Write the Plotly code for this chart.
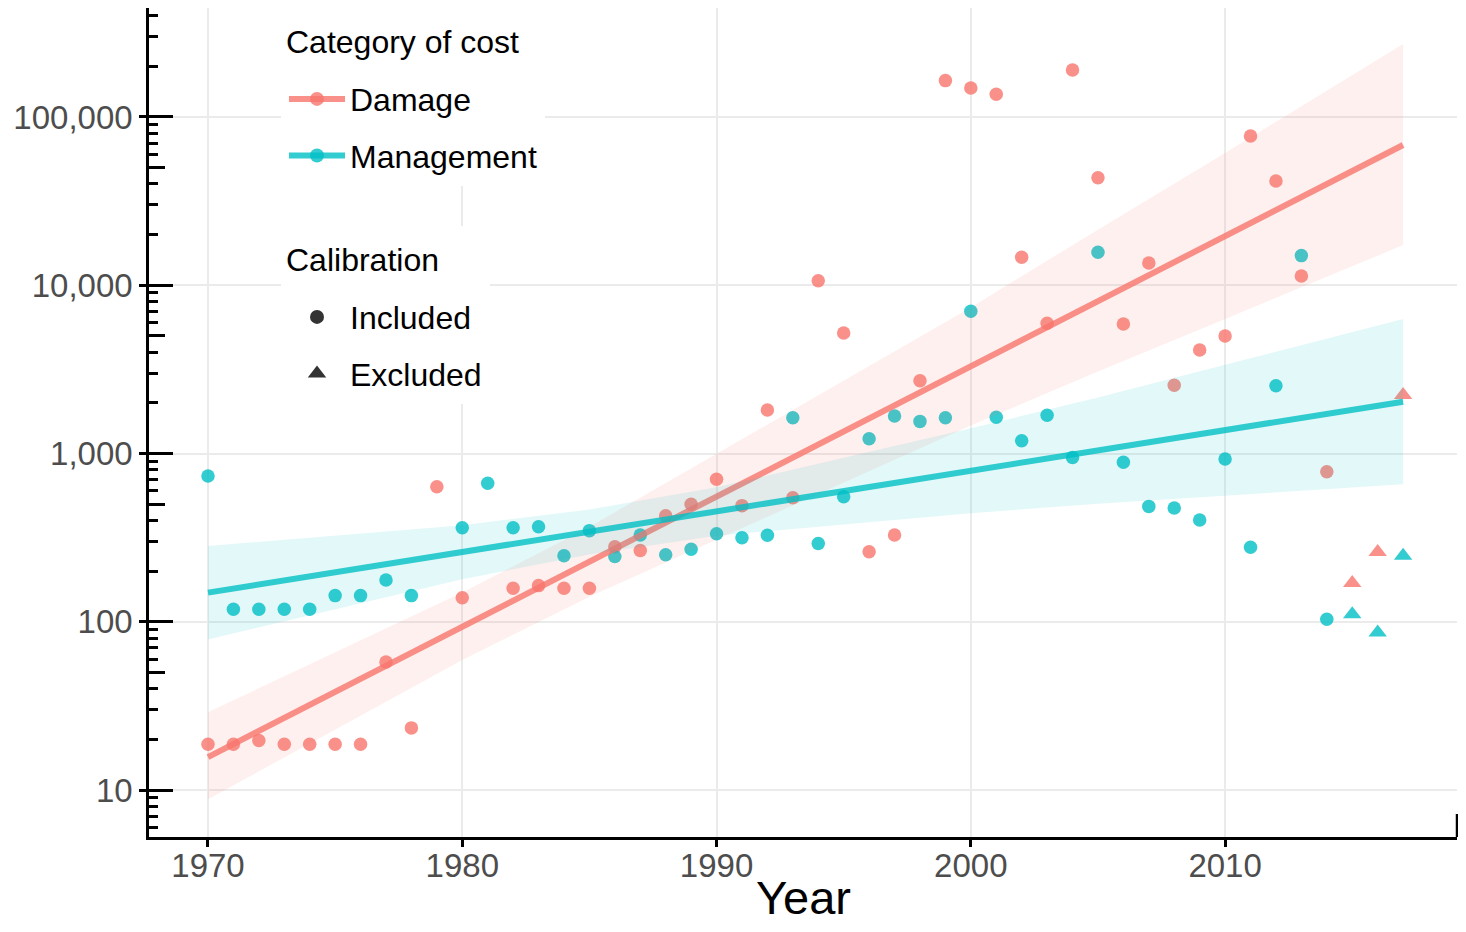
import plotly.graph_objects as go

# ---------------- data ----------------
dmg_years = [1970, 1971, 1972, 1973, 1974, 1975, 1976, 1977, 1978, 1979, 1980,
             1982, 1983, 1984, 1985, 1986, 1987, 1988, 1989, 1990, 1991, 1992,
             1993, 1994, 1995, 1996, 1997, 1998, 1999, 2000, 2001, 2002, 2003,
             2004, 2005, 2006, 2007, 2008, 2009, 2010, 2011, 2012, 2013, 2014]
dmg_values = [18.7, 18.7, 19.7, 18.7, 18.7, 18.7, 18.7, 57.7, 23.4, 635, 139,
              158, 164, 158, 158, 279, 265, 426, 499, 704, 490, 1815,
              546, 10640, 5200, 261, 328, 2710, 164500, 148600, 136500, 14660, 5940,
              190100, 43600, 5890, 13550, 2547, 4120, 4990, 77100, 41700, 11350, 780]
dmg_excl_years = [2015, 2016, 2017]
dmg_excl_values = [170, 260, 2230]

mgmt_years = [1970, 1971, 1972, 1973, 1974, 1975, 1976, 1977, 1978, 1980, 1981,
              1982, 1983, 1984, 1985, 1986, 1987, 1988, 1989, 1990, 1991, 1992,
              1993, 1994, 1995, 1996, 1997, 1998, 1999, 2000, 2001, 2002, 2003,
              2004, 2005, 2006, 2007, 2008, 2009, 2010, 2011, 2012, 2013, 2014]
mgmt_values = [735, 118.6, 118.6, 118.6, 118.6, 143, 143, 177, 143, 362, 666,
               362, 367, 247, 348, 244, 328, 250, 270, 333, 316, 327,
               1633, 292, 553, 1224, 1671, 1552, 1633, 7000, 1640, 1191, 1687,
               948, 15710, 887, 485, 474, 403, 927, 277, 2530, 15000, 103.6]
mgmt_excl_years = [2015, 2016, 2017]
mgmt_excl_values = [111, 86.4, 247]

# fitted trend lines (log-linear) and their confidence ribbons
fit_years = [1970, 2017]
dmg_fit = [15.7, 68200]
mgmt_fit = [149, 2032]

band_years = [1970, 1980, 1985, 1990, 2000, 2005, 2010, 2017]
dmg_upper = [29.0, 149, 366, 1000, 7380, 21400, 61100, 271600]
dmg_lower = [8.81, 59.3, 141, 308, 1466, 3070, 6300, 17340]
mgmt_upper = [282, 375, 465, 631, 1412, 2150, 3365, 6300]
mgmt_lower = [78.5, 179, 251, 324, 442, 503, 561, 656]

x_tick_vals = [1970, 1980, 1990, 2000, 2010]
x_tick_text = ["1970", "1980", "1990", "2000", "2010"]
y_tick_vals = [10, 100, 1000, 10000, 100000]
y_tick_text = ["10", "100", "1,000", "10,000", "100,000"]
y_mid_vals = [50, 500, 5000, 50000]
minor_multipliers = [2, 3, 4, 6, 7, 8, 9]
decades = [1, 10, 100, 1000, 10000, 100000]
x_title = "Year"

# ---------------- styling ----------------
RED = (248, 118, 109)
TEAL = (0, 191, 196)
FONT = "Liberation Sans, Arial, Helvetica, sans-serif"


def rgba(c, a):
    return "rgba(%d,%d,%d,%.3f)" % (c[0], c[1], c[2], a)


W, H = 1450, 916
ML, MR, MT, MB = 141, 1, 0, 87
PLOT_W = W - ML - MR
PLOT_H = H - MT - MB
X_RANGE = [1967.68, 2019.12]
Y_RANGE = [0.7207, 5.6478]

fig = go.Figure()

# points (drawn first, ribbons lie over them as in the original)
fig.add_trace(go.Scatter(x=dmg_years, y=dmg_values, mode="markers",
                         marker=dict(size=13.5, color=rgba(RED, 0.8), line=dict(width=0)),
                         showlegend=False, hoverinfo="skip"))
fig.add_trace(go.Scatter(x=mgmt_years, y=mgmt_values, mode="markers",
                         marker=dict(size=13.5, color=rgba(TEAL, 0.8), line=dict(width=0)),
                         showlegend=False, hoverinfo="skip"))
fig.add_trace(go.Scatter(x=dmg_excl_years, y=dmg_excl_values, mode="markers",
                         marker=dict(size=16, symbol="triangle-up", color=rgba(RED, 0.8), line=dict(width=0)),
                         showlegend=False, hoverinfo="skip"))
fig.add_trace(go.Scatter(x=mgmt_excl_years, y=mgmt_excl_values, mode="markers",
                         marker=dict(size=16, symbol="triangle-up", color=rgba(TEAL, 0.8), line=dict(width=0)),
                         showlegend=False, hoverinfo="skip"))

# Damage ribbon + line
fig.add_trace(go.Scatter(x=band_years + band_years[::-1], y=dmg_upper + dmg_lower[::-1],
                         mode="lines", fill="toself", fillcolor=rgba(RED, 0.11),
                         line=dict(width=0), showlegend=False, hoverinfo="skip"))
fig.add_trace(go.Scatter(x=fit_years, y=dmg_fit, mode="lines",
                         line=dict(color=rgba(RED, 0.8), width=6),
                         showlegend=False, hoverinfo="skip"))
# Management ribbon + line
fig.add_trace(go.Scatter(x=band_years + band_years[::-1], y=mgmt_upper + mgmt_lower[::-1],
                         mode="lines", fill="toself", fillcolor=rgba(TEAL, 0.11),
                         line=dict(width=0), showlegend=False, hoverinfo="skip"))
fig.add_trace(go.Scatter(x=fit_years, y=mgmt_fit, mode="lines",
                         line=dict(color=rgba(TEAL, 0.8), width=6),
                         showlegend=False, hoverinfo="skip"))

# legend entries
spacer = dict(text="\u00a0", font=dict(size=12, family=FONT))
fig.add_trace(go.Scatter(x=[None], y=[None], mode="lines+markers", name="Damage",
                         line=dict(color=rgba(RED, 0.8), width=6),
                         marker=dict(size=14, color=rgba(RED, 0.8)),
                         legend="legend", legendgroup="g1", legendgrouptitle=spacer))
fig.add_trace(go.Scatter(x=[None], y=[None], mode="lines+markers", name="Management",
                         line=dict(color=rgba(TEAL, 0.8), width=6),
                         marker=dict(size=14, color=rgba(TEAL, 0.8)),
                         legend="legend", legendgroup="g2"))
fig.add_trace(go.Scatter(x=[None], y=[None], mode="markers", name="Included",
                         marker=dict(size=14, color="#333333"),
                         legend="legend2", legendgroup="g3", legendgrouptitle=spacer, yaxis="y2"))
fig.add_trace(go.Scatter(x=[None], y=[None], mode="markers", name="Excluded",
                         marker=dict(size=16, symbol="triangle-up", color="#333333"),
                         legend="legend2", legendgroup="g4", yaxis="y3"))

minor_vals = [d * m for d in decades for m in minor_multipliers]
fig.add_trace(go.Scatter(x=[None], y=[None], mode="markers", showlegend=False,
                         yaxis="y4", hoverinfo="skip"))

common_overlay = dict(overlaying="y", anchor="x", side="left", type="log", range=Y_RANGE,
                      showticklabels=False, showgrid=False, showline=False, zeroline=False,
                      tickcolor="black", tickwidth=2.5, ticks="inside")

LEG_X = (273 - ML) / PLOT_W

fig.update_layout(
    width=W, height=H,
    margin=dict(l=ML, r=MR, t=MT, b=MB),
    paper_bgcolor="white", plot_bgcolor="white",
    font=dict(family=FONT, color="black"),
    xaxis=dict(range=X_RANGE, tickvals=x_tick_vals, ticktext=x_tick_text,
               ticks="outside", ticklen=7, tickwidth=2.5, tickcolor="black",
               showline=True, linecolor="black", linewidth=2.5,
               showgrid=True, gridcolor="#EBEBEB", gridwidth=2, zeroline=False,
               tickfont=dict(size=33, color="#4D4D4D", family=FONT),
               ticklabelstandoff=-9),
    yaxis=dict(type="log", range=Y_RANGE, tickvals=y_tick_vals, ticktext=y_tick_text,
               ticks="outside", ticklen=7, tickwidth=2.5, tickcolor="black",
               showline=True, linecolor="black", linewidth=2.5,
               showgrid=True, gridcolor="#EBEBEB", gridwidth=2, zeroline=False,
               tickfont=dict(size=33, color="#4D4D4D", family=FONT),
               ticklabelstandoff=0),
    yaxis2=dict(tickvals=y_tick_vals, ticklen=24, **common_overlay),
    yaxis3=dict(tickvals=y_mid_vals, ticklen=16, **common_overlay),
    yaxis4=dict(tickvals=minor_vals, ticklen=9, **common_overlay),
    legend=dict(title=dict(text="Category of cost", font=dict(size=32, color="black", family=FONT)),
                font=dict(size=32, color="black", family=FONT),
                x=LEG_X, y=1, xanchor="left", yanchor="top",
                bgcolor="white", bordercolor="white", borderwidth=3,
                tracegroupgap=12, itemwidth=56, itemclick=False),
    legend2=dict(title=dict(text="Calibration", font=dict(size=32, color="black", family=FONT)),
                 font=dict(size=32, color="black", family=FONT),
                 x=LEG_X, y=1 - 218 / PLOT_H, xanchor="left", yanchor="top",
                 bgcolor="white", bordercolor="white", borderwidth=3,
                 tracegroupgap=12, itemwidth=56, itemclick=False),
    annotations=[dict(text=x_title, xref="paper", yref="paper", x=0.5, y=-(889 - 829) / PLOT_H,
                      xanchor="center", yanchor="middle", showarrow=False,
                      font=dict(size=47, color="black", family=FONT))],
    shapes=[dict(type="line", xref="paper", yref="paper", x0=1, x1=1,
                 ysizemode="pixel", yanchor=0, y0=0, y1=23,
                 line=dict(color="black", width=2.5))],
)

fig.write_html("out.html")
